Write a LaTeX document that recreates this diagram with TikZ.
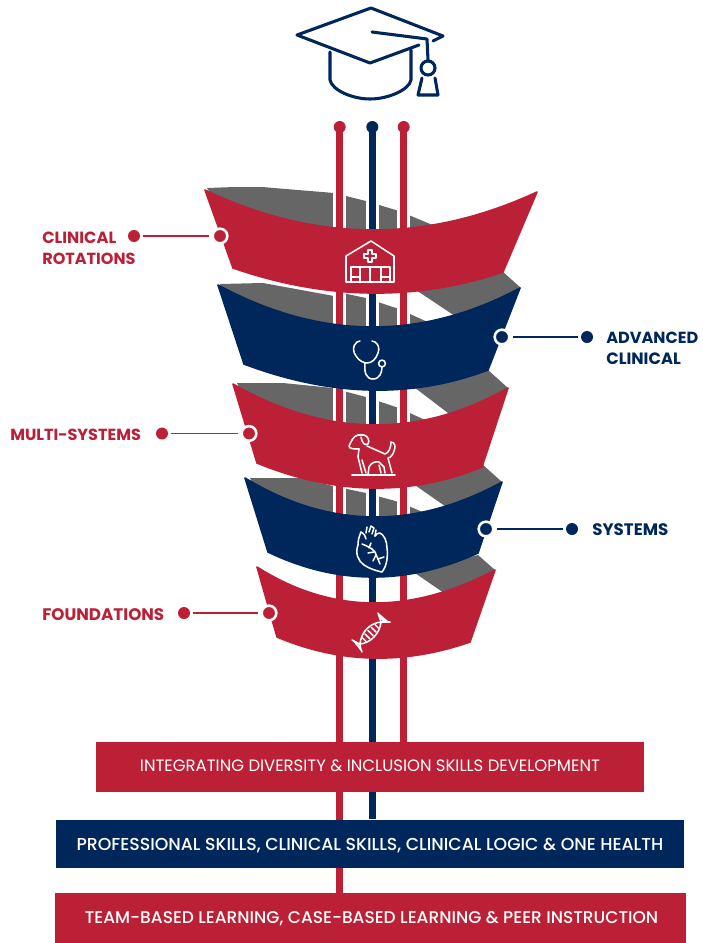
\documentclass[tikz,border=0pt]{standalone}
\usepackage{fontspec}
\usepackage{graphicx}
\usetikzlibrary{calc}
\setmainfont{Poppins}
\newfontfamily\medf{Poppins Medium}
\definecolor{cred}{HTML}{BB2036}
\definecolor{cnavy}{HTML}{00275B}
\definecolor{cgray}{HTML}{666666}
\newcommand\fitw[2]{\resizebox{#1pt}{!}{#2}}
\newcommand\bandshape[7]{\fill[#1,draw=#1,line width=1.2pt,line join=round]
  (#2) .. controls ($1.3333*(#3)-0.3333*(#4)$) and ($1.3333*(#3)-0.3333*(#2)$) .. (#4)
  -- (#5) .. controls ($1.3333*(#6)-0.3333*(#7)$) and ($1.3333*(#6)-0.3333*(#5)$) .. (#7) -- cycle;}
\pgfdeclarelayer{back}
\pgfsetlayers{back,main}
\tikzset{
  x=0.75pt,y=-0.75pt,
  enddot/.style={circle,inner sep=0pt,minimum size=9pt,fill=#1},
  ringdot/.style={circle,inner sep=0pt,minimum size=11pt,fill=#1,draw=white,line width=1.9pt},
  leader/.style={#1,line width=1.4pt,shorten <=2pt,shorten >=1.8pt},
  rail/.style={#1,line width=4.9pt},
  halo/.style={white,line width=9.8pt},
  backing/.style={fill=cgray},
  lab/.style={#1,inner sep=0pt,anchor=west,font=\bfseries},
  bar/.style={fill=#1,inner sep=0pt,text=white},
  hat/.style={cnavy,line width=2.3pt,line cap=round,line join=round},
  icon/.style={white,line width=1.15pt,line cap=round,line join=round},
}
\begin{document}
\begin{tikzpicture}
\useasboundingbox (0,0) rectangle (703,943);
% end dots and bars
\node[enddot=cred]  (t1) at (339.7,127) {};
\node[enddot=cnavy] (t2) at (372.3,127) {};
\node[enddot=cred]  (t3) at (403.7,127) {};
\node[bar=cred,minimum width=411pt,minimum height=37.5pt] (b1) at (370,767)
  {\raisebox{-3.6pt}[0pt][0pt]{\fitw{345}{INTEGRATING DIVERSITY \& INCLUSION SKILLS DEVELOPMENT}}};
\node[bar=cnavy,minimum width=471pt,minimum height=36.4pt] (b2) at (370,844)
  {\raisebox{-5pt}[0pt][0pt]{\fitw{440}{\medf PROFESSIONAL SKILLS, CLINICAL SKILLS, CLINICAL LOGIC \& ONE HEALTH}}};
\node[bar=cred,minimum width=473pt,minimum height=37.5pt] (b3) at (370.7,918)
  {\hspace{1.3pt}\raisebox{-4.4pt}[0pt][0pt]{\fitw{430}{\medf TEAM-BASED LEARNING, CASE-BASED LEARNING \& PEER INSTRUCTION}}};
\begin{pgfonlayer}{back}
% grey backing
\fill[backing] (207,188)--(235,187)--(262,187)--(334,193)--(366,201)--(399,211)--(435,226)--(435,240)--(371,250)--(225,215)--cycle;
\fill[backing] (220,284)--(263,283)--(334,296)--(347,294)--(366,298)--(399,309)--(432,324)--(432,340)--(371,350)--(235,315)--cycle;
\fill[backing] (237,383)--(283,383)--(333,388)--(347,392)--(366,397)--(399,408)--(425,420)--(425,440)--(372,450)--(250,410)--cycle;
\fill[backing] (250,478)--(300,478)--(333,486)--(347,489)--(366,493)--(399,502)--(425,513)--(425,530)--(372,540)--(262,505)--cycle;
\fill[backing] (413,288)--(470,326)--(521,288)--(503,272)--cycle;
\fill[backing] (410,384)--(465,426)--(508,388)--(488,370)--cycle;
\fill[backing] (412,483)--(462,518)--(502,482)--(482,464)--cycle;
\fill[backing] (412,571)--(460,604)--(495,570)--(478,555)--cycle;
% rails
\draw[halo] (t1.south) -- (t1.south |- b3.north);
\draw[halo] (t2.south) -- (t2.south |- b2.north);
\draw[halo] (t3.south) -- (t3.south |- b1.north);
\draw[rail=cred]  (t1.center) -- (t1.center |- b3.north);
\draw[rail=cnavy] (t2.center) -- (t2.center |- b2.north);
\draw[rail=cred]  (t3.center) -- (t3.center |- b1.north);
\end{pgfonlayer}
% bands
\bandshape{cred}{257,567}{372,603}{495,570}{470,642}{372,658}{277,637}
\bandshape{cnavy}{245,478}{372,517}{502,482}{478,553}{372,577}{268,552}
\bandshape{cred}{233,384}{372,425}{508,388}{482,467}{372,488}{257,463}
\bandshape{cnavy}{218,285}{370,327}{520,288}{488,370}{370,390}{244,364}
\bandshape{cred}{205,190}{371,230}{537,192}{503,272}{370,293}{233,268}
% markers and leaders
\node[ringdot=cred] (r1) at (220,236) {};
\node[enddot=cred]  (d1) at (134,236) {};
\draw[leader=cred] (d1) -- (r1);
\node[ringdot=cnavy] (r2) at (502,337) {};
\node[enddot=cnavy]  (d2) at (587,337) {};
\draw[leader=cnavy] (d2) -- (r2);
\node[ringdot=cred] (r3) at (249,433.5) {};
\node[enddot=cred]  (d3) at (162,433.5) {};
\draw[leader=cred] (d3) -- (r3);
\node[ringdot=cnavy] (r4) at (486,529) {};
\node[enddot=cnavy]  (d4) at (572,529) {};
\draw[leader=cnavy] (d4) -- (r4);
\node[ringdot=cred] (r5) at (269,613) {};
\node[enddot=cred]  (d5) at (184,613) {};
\draw[leader=cred] (d5) -- (r5);
% labels
\node[lab=cred] (l1a) at (42,237.5) {\fitw{55.5}{CLINICAL}};
\node[lab=cred] (l1b) at (42,258.5) {\fitw{70}{ROTATIONS}};
\node[lab=cnavy] (l2a) at (606,337.5) {\fitw{69}{ADVANCED}};
\node[lab=cnavy] (l2b) at (606,358.5) {\fitw{56}{CLINICAL}};
\node[lab=cred] (l3) at (10,434.5) {\fitw{98}{MULTI-SYSTEMS}};
\node[lab=cnavy] (l4) at (592,529.5) {\fitw{57}{SYSTEMS}};
\node[lab=cred] (l5) at (42,614.5) {\fitw{91.5}{FOUNDATIONS}};
% mortarboard
\draw[hat] (433,41)--(443,36)--(371,8)--(297,35)--(370,63)--(419,45);
\draw[hat] (372,32)--(427,39)--(428,60);
\draw[hat] (428,68) circle[radius=7];
\draw[hat] (422,78)--(418,95)--(438,95)--(435,78);
\draw[hat] (330,52)--(330,80) .. controls (332,90) and (352,99) .. (370,99) .. controls (388,99) and (409,90) .. (411,80)--(411,50);
% hospital
\draw[icon] (346,282)--(346,256)--(371,241)--(394,256)--(394,282)--cycle;
\draw[icon] (351,282)--(351,267)--(390,267)--(390,282);
\draw[icon] (360,267)--(360,282) (370,267)--(370,282) (381,267)--(381,282) (351,277)--(360,277) (381,277)--(390,277);
\draw[icon] (368,250)--(372,250)--(372,254)--(376,254)--(376,258)--(372,258)--(372,262)--(368,262)--(368,258)--(364,258)--(364,254)--(368,254)--cycle;
% stethoscope
\draw[icon] (360,341) -- (357,342) .. controls (352,346) and (353,352) .. (356,356) .. controls (359,361) and (364,363) .. (367,363) .. controls (372,363) and (376,359) .. (378,353) .. controls (380,348) and (378,344) .. (375,342) -- (372,341);
\draw[icon] (365,363) .. controls (364,372) and (366,379) .. (373,379) .. controls (380,379) and (382,372) .. (382,367);
\draw[icon] (382,363.5) circle[radius=3.4];
% dog
\draw[icon] (352,475)--(395,475);
\draw[icon] (367,446)--(385,454) .. controls (389,453) and (391,447) .. (391,442) .. controls (395,442) and (396,447) .. (394,451) .. controls (393,455) and (390,458) .. (388,458)--(392,473);
\draw[icon] (359,449) .. controls (354,449) and (349,449) .. (349,446) .. controls (351,442) and (353,436) .. (358,435) -- (364,435) .. controls (368,436) and (370,441) .. (368,444) .. controls (365,446) and (362,443) .. (361,437);
\draw[icon] (359,449)--(358,457)--(362,473);
\draw[icon] (362,460)--(366,473);
\draw[icon] (368,475)--(369,467) .. controls (371,463) and (375,461) .. (379,462)--(384,467)--(385,473);
\draw[icon] (379,465)--(381,473);
% heart
\draw[icon] (361,532) .. controls (359,537) and (358,540) .. (358,545) .. controls (355,553) and (358,561) .. (364,565) .. controls (370,569) and (377,571) .. (382,572) .. controls (387,566) and (388,556) .. (387,548) .. controls (387,541) and (384,535) .. (380,533) .. controls (378,533) and (376,534) .. (375,536);
\draw[icon] (361,532) .. controls (364,534) and (366,536) .. (366,539);
\draw[icon] (366,533)--(367,527) (369,532)--(371,526)--(374,528)--(372,534)  (375,536)--(376,530);
\draw[icon] (362,544) .. controls (367,546) and (372,548) .. (375,552)--(380,564);
\draw[icon] (368,553)--(374,552) (369,548)--(371,543) (376,555)--(373,561) (378,559)--(384,557);
% dna
\draw[icon] (360,644) .. controls (361,632) and (370,623) .. (381,622);
\draw[icon] (360,644) .. controls (371,643) and (380,633) .. (381,622);
\draw[icon] (352,640) .. controls (355,642) and (358,643) .. (360,644) .. controls (360,647) and (361,650) .. (362,652);
\draw[icon] (378,613) .. controls (379,616) and (380,619) .. (381,622) .. controls (384,622) and (387,622) .. (390,622);
\foreach \a/\b/\h in {364.2/639.6/1.7,367.35/636.3/2.4,370.5/633/2.7,373.65/629.7/2.4,376.8/626.4/1.7}{
  \draw[icon] (\a-\h,\b-\h) -- (\a+\h,\b+\h);}
\draw[icon] (356,642)--(360,648) (354,641)--(361,650);
\draw[icon] (379.5,617)--(385,622) (378.5,614)--(388,622);
\end{tikzpicture}
\end{document}
